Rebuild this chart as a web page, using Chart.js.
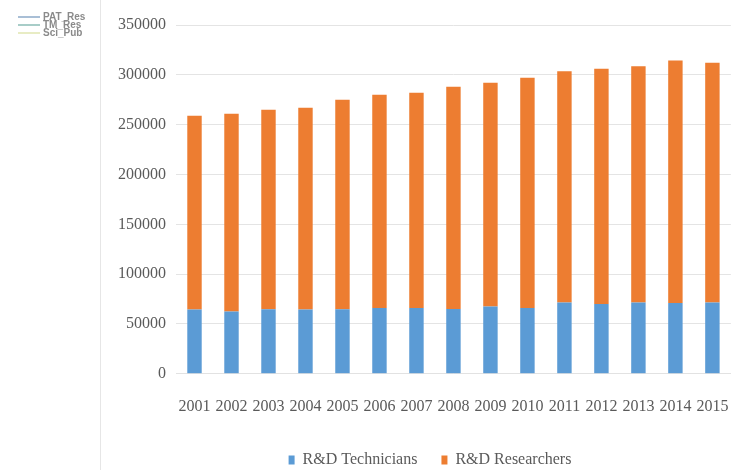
<!DOCTYPE html>
<html>
<head>
<meta charset="utf-8">
<script src="https://cdn.jsdelivr.net/npm/chart.js@4.4.1/dist/chart.umd.min.js"></script>
<style>
  html, body { margin: 0; padding: 0; background: #ffffff; }
  #wrap { position: relative; width: 752px; height: 470px; }
  #c { position: absolute; left: 0; top: 0; }
  .vline { position: absolute; left: 100px; top: 0; width: 1px; height: 470px; background: #e6e6e6; }
  .mini { position: absolute; left: 18px; font: bold 10px "Liberation Sans", Arial, sans-serif; color: #8a8a8a; line-height: 8px; white-space: nowrap; }
  .mini span.ln { display: inline-block; width: 22px; height: 2px; vertical-align: middle; margin-right: 3px; }
</style>
</head>
<body>
<div id="wrap">
  <canvas id="c" width="752" height="470"></canvas>
  <div class="vline"></div>
  <div class="mini" style="top:13px"><span class="ln" style="background:#a9bfd6"></span>PAT_Res</div>
  <div class="mini" style="top:21px"><span class="ln" style="background:#a8cdc8"></span>TM_Res</div>
  <div class="mini" style="top:29px"><span class="ln" style="background:#e8ecc4"></span>Sci_Pub</div>
</div>
<script>
const years = ["2001","2002","2003","2004","2005","2006","2007","2008","2009","2010","2011","2012","2013","2014","2015"];
const technicians = [64500, 62500, 64800, 64500, 64800, 66000, 66000, 65000, 67500, 66000, 71500, 70000, 71500, 71000, 71500];
const researchers = [194500, 198500, 200200, 202500, 210200, 214000, 216000, 223000, 224500, 231000, 232000, 236000, 237000, 243500, 240500];
const yTicks = [0, 50000, 100000, 150000, 200000, 250000, 300000, 350000];

const textColor = '#5a5a5a';
const serif = '"Liberation Serif", "Times New Roman", serif';

// move the legend so it sits centred under the plot area, as in the reference
const legendShift = {
  id: 'legendShift',
  afterLayout(chart) {
    const lg = chart.legend;
    if (lg) { lg.left += 63; lg.right += 63; lg.top -= 11; lg.bottom -= 11; }
  }
};

new Chart(document.getElementById('c'), {
  type: 'bar',
  data: {
    labels: years,
    datasets: [
      { label: 'R&D Technicians', data: technicians, backgroundColor: '#5B9BD5', borderWidth: 0 },
      { label: 'R&D Researchers', data: researchers, backgroundColor: '#ED7D31', borderWidth: 0 }
    ]
  },
  options: {
    responsive: false,
    animation: false,
    devicePixelRatio: 1,
    layout: { padding: { left: 0, right: 18, top: 25, bottom: -19 } },
    datasets: { bar: { categoryPercentage: 1.0, barPercentage: 0.39 } },
    scales: {
      x: {
        stacked: true,
        grid: { display: false, drawTicks: false },
        border: { display: true, color: '#e2e2e2' },
        ticks: { color: textColor, font: { family: serif, size: 16 }, padding: 23, maxRotation: 0, autoSkip: false }
      },
      y: {
        stacked: true,
        min: 0, max: 350000,
        afterBuildTicks: (s) => { s.ticks = yTicks.map(v => ({ value: v })); },
        afterFit: (s) => { s.width = 176; },
        grid: { color: '#e4e4e4', drawTicks: false },
        border: { display: false },
        ticks: { color: textColor, font: { family: serif, size: 16 }, padding: 10, callback: (v) => String(v) }
      }
    },
    plugins: {
      tooltip: { enabled: false },
      legend: {
        position: 'bottom',
        labels: { color: textColor, font: { family: serif, size: 16 }, boxWidth: 6, boxHeight: 9, padding: 24 }
      }
    }
  },
  plugins: [legendShift]
});
</script>
</body>
</html>
